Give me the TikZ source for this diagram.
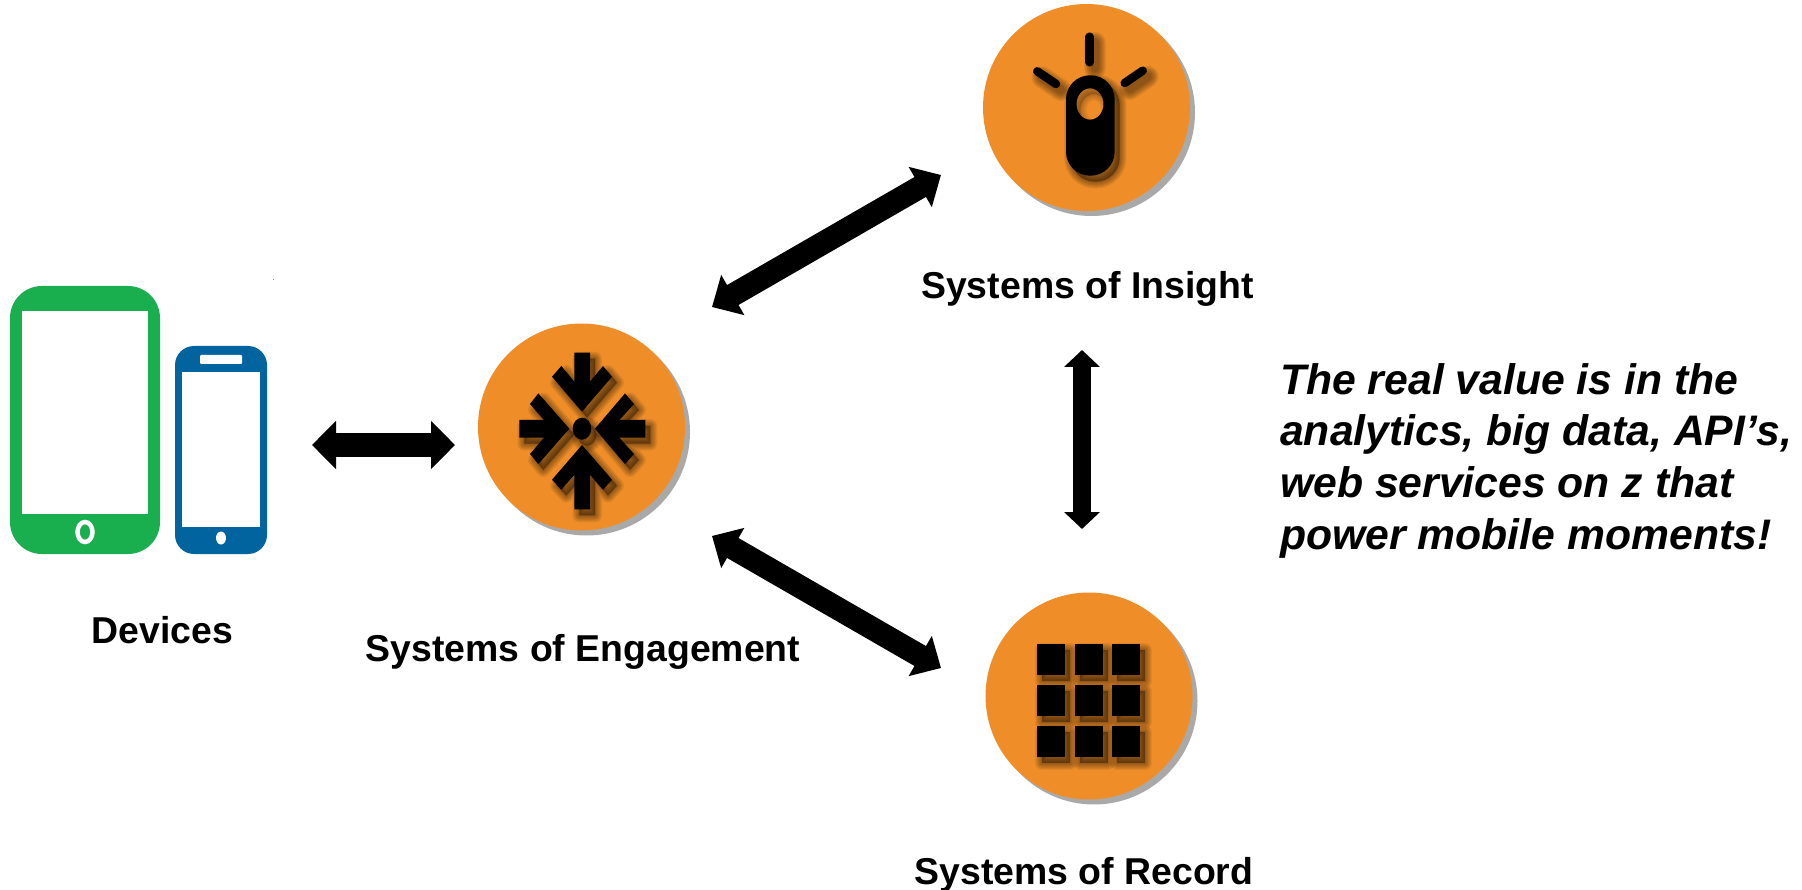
\documentclass[tikz,border=0pt]{standalone}
\usepackage{fontspec}
\setmainfont{Liberation Sans}
\usetikzlibrary{arrows.meta}
\definecolor{orangeC}{HTML}{EF8E29}
\definecolor{grayC}{HTML}{A9A9A9}
\definecolor{tabletC}{HTML}{1AAF4E}
\definecolor{phoneC}{HTML}{02649F}
\tikzset{
 lab/.style={font=\bfseries\fontsize{37.4}{40}\selectfont,inner sep=0pt,text=black},
 quotetext/.style={font=\bfseries\itshape\fontsize{42.7}{51.6}\selectfont,inner sep=0pt,align=left,anchor=base west},
 disc/.style={circle,fill=orangeC,draw=none,minimum size=207pt,inner sep=0pt},
 discback/.style={circle,fill=grayC,draw=none,minimum size=207pt,inner sep=0pt},
 biglink/.style={draw=black,line width=23pt,{Triangle[length=24pt,width=45pt]}-{Triangle[length=24pt,width=45pt]}},
 hlink/.style={draw=black,line width=24pt,{Triangle[length=24pt,width=47pt]}-{Triangle[length=24pt,width=47pt]}},
 vlink/.style={draw=black,line width=17.5pt,{Triangle[length=17pt,width=35pt]}-{Triangle[length=17pt,width=35pt]}}}
\newcommand{\softshadow}[1]{%
 \begin{scope}[shift={(5pt,-6pt)}]
 \foreach \w in {14,12,10,8,6,4,2}{
  \draw[black,opacity=.06,line width=\w pt,line join=round,line cap=round,fill=black] #1;
 }
 \end{scope}}
\begin{document}
\begin{tikzpicture}[x=1pt,y=-1pt]
\useasboundingbox (0,0) rectangle (1802,890);
\fill[white] (0,0) rectangle (1802,890);
% devices
\fill[tabletC,rounded corners=32pt] (10,286) rectangle (160,554);
\fill[white] (22,311) rectangle (148,514);
\draw[white,line width=4.5pt] (85,532) ellipse [x radius=7.5,y radius=10];
\fill[phoneC,rounded corners=19pt] (175,346) rectangle (267,554);
\fill[white] (182,372) rectangle (260,527);
\fill[white,rounded corners=1pt] (200,355) rectangle (242,364);
\fill[white] (221,538) ellipse [x radius=5,y radius=6.5];
\fill[gray] (272.5,279) rectangle (274,280);
\node[lab] (devlabel) at (162.5,630) {Devices};
% discs
\node[discback] (engB) at (586.5,432) {};
\node[disc] (eng) at (581.5,427) {};
\node[discback] (insB) at (1091.5,112.5) {};
\node[disc] (ins) at (1086.5,107.5) {};
\node[discback] (recB) at (1094,701) {};
\node[disc] (rec) at (1089,696) {};
% engagement icon
\begin{scope}[shift={(582,428.7)}]
 \def\ia{(0,-17) -- (30,-52) -- (21,-62.7) -- (8,-47) -- (8,-76) -- (-7.7,-76) -- (-7.7,-47) -- (-20.7,-62.7) -- (-30,-52) -- cycle}
 \def\ib{(0,16.3) -- (30,51) -- (21,61) -- (8,46) -- (8,80.7) -- (-7.7,80.7) -- (-7.7,46) -- (-20.7,61) -- (-30,51) -- cycle}
 \def\ic{(-12.7,0) -- (-43.7,-35.3) -- (-52,-24.7) -- (-38,-8.7) -- (-62.7,-8.7) -- (-62.7,9) -- (-38,9) -- (-52,25.3) -- (-43.7,35.3) -- cycle}
 \def\id{(13,0) -- (43,-35.3) -- (52,-24.7) -- (37.3,-8.7) -- (63.3,-8.7) -- (63.3,9) -- (37.3,9) -- (52,25.3) -- (43,35.3) -- cycle}
 \def\ie{(0,0) ellipse [x radius=9.3,y radius=11]}
 \softshadow{\ia}\softshadow{\ib}\softshadow{\ic}\softshadow{\id}\softshadow{\ie}
 \fill[black] \ia; \fill[black] \ib; \fill[black] \ic; \fill[black] \id; \fill[black] \ie;
\end{scope}
% insight icon
\def\rayA{(1089.7,36.7) -- (1089.7,62.3)}
\def\rayB{(1037.3,71.3) -- (1056,84)}
\def\rayC{(1142.7,70.7) -- (1124.7,83)}
\begin{scope}[shift={(5pt,-6pt)}]
 \foreach \w in {22,20,18,16,14,12,10,8}{
  \draw[black,opacity=.06,line width=\w pt,line cap=round] \rayA;
  \draw[black,opacity=.06,line width=\w pt,line cap=round] \rayB;
  \draw[black,opacity=.06,line width=\w pt,line cap=round] \rayC;
 }
\end{scope}
\softshadow{[rounded corners=24pt] (1066,75.3) rectangle (1114.7,175.7)}
\fill[orangeC] (1090,104) ellipse [x radius=13.5,y radius=15.7];
\begin{scope}
 \clip (1090,104) ellipse [x radius=13.5,y radius=15.7];
 \fill[black,opacity=.2,even odd rule] (1060,70) rectangle (1120,140) (1094,110) ellipse [x radius=13.5,y radius=15.7];
 \foreach \w in {12,8,4}{
  \draw[black,opacity=.07,line width=\w pt] (1094,110) ellipse [x radius=13.5,y radius=15.7];
 }
\end{scope}
\fill[black,even odd rule] [rounded corners=24pt] (1066,75.3) rectangle (1114.7,175.7) [sharp corners] (1090,104) ellipse [x radius=13.5,y radius=15.7];
\draw[black,line width=8.5pt,line cap=round] \rayA;
\draw[black,line width=8.5pt,line cap=round] \rayB;
\draw[black,line width=8.5pt,line cap=round] \rayC;
% record icon
\foreach \cx/\cy in {1037/644,1075/644,1112/644,1037/685,1075/685,1112/685,1037/726,1075/726,1112/726}{
 \softshadow{(\cx,\cy) rectangle (\cx+28,\cy+31)}
}
\foreach \cx/\cy in {1037/644,1075/644,1112/644,1037/685,1075/685,1112/685,1037/726,1075/726,1112/726}{
 \fill[black] (\cx,\cy) rectangle (\cx+28,\cy+31);
}
% labels
\node[lab] (inslabel) at (1087.5,288.5) {Systems of Insight};
\node[lab] (englabel) at (583,651.5) {Systems of Engagement};
\node[lab] (reclabel) at (1084,874.5) {Systems of Record};
\node[quotetext] (quote) at (1280,549) {The real value is in the\\analytics, big data, API’s,\\web services on z that\\power mobile moments!};
% connectors
\coordinate (h1) at (312,445); \coordinate (h2) at (455,445);
\coordinate (a1) at (712,307); \coordinate (a2) at (941,175);
\coordinate (b1) at (712,536); \coordinate (b2) at (941,668);
\coordinate (v1) at (1082,350); \coordinate (v2) at (1082,529);
\draw[hlink] (h1) -- (h2);
\draw[biglink] (a1) -- (a2);
\draw[biglink] (b1) -- (b2);
\draw[vlink] (v1) -- (v2);
\end{tikzpicture}
\end{document}
